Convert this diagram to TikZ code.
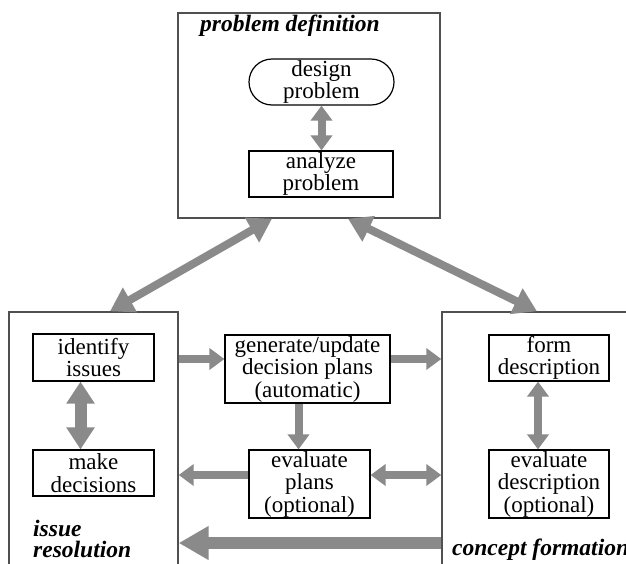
\documentclass[tikz,border=0pt]{standalone}
\usepackage{fontspec}
\setmainfont{Liberation Serif}
\usetikzlibrary{arrows.meta,shapes.misc,positioning}
\definecolor{framegray}{RGB}{80,80,80}
\definecolor{arrowgray}{RGB}{138,138,138}
\newcommand{\bodyfont}{\fontsize{23}{22.5}\selectfont}
\newcommand{\titlefont}{\fontsize{23.5}{21}\selectfont\bfseries\itshape}
\begin{document}
\begin{tikzpicture}[x=1pt,y=-1pt,
  frame/.style={draw=framegray,line width=1.4pt,inner sep=0pt},
  box/.style={draw=black,line width=1.2pt,inner sep=0pt,align=center,font=\bodyfont},
  ttl/.style={inner sep=0pt,anchor=base west,align=left,font=\titlefont},
  arr/.style={draw=arrowgray,line width=8pt,-{Triangle[width=21pt,length=15pt]}},
  darr/.style={arr,{Triangle[width=21pt,length=15pt]}-{Triangle[width=21pt,length=15pt]}},
  fatarr/.style={draw=arrowgray,line width=12pt,{Triangle[width=27pt,length=22pt]}-{Triangle[width=27pt,length=22pt]}},
  bigarr/.style={draw=arrowgray,line width=8pt,{Triangle[width=27pt,length=23pt]}-{Triangle[width=27pt,length=23pt]}},
  backarr/.style={draw=arrowgray,line width=12pt,-{Triangle[width=32pt,length=30pt]}}]
\useasboundingbox (0,0) rectangle (626,563);
\fill[white] (0,0) rectangle (626,563);
% the three areas
\node[frame,minimum width=262pt,minimum height=205pt] (pdef) at (309,115.5) {};
\node[frame,minimum width=169pt,minimum height=300pt] (ires) at (93.5,462) {};
\node[frame,minimum width=240pt,minimum height=300pt] (cform) at (562,462) {};
\node[ttl] (pdeft) at (200,31) {problem definition};
\node[ttl] (irest) at (33,557) {issue\\resolution};
\node[ttl] (cformt) at (452,555) {concept formation};
% steps
\node[box,rounded rectangle,minimum width=145pt,minimum height=46pt] (dprob) at (321.5,82) {design\\problem};
\node[box,minimum width=144pt,minimum height=46pt] (aprob) at (321,174) {analyze\\problem};
\node[box,minimum width=121pt,minimum height=47pt] (iden) at (93.5,357.5) {identify\\issues};
\node[box,minimum width=121pt,minimum height=46pt] (mdec) at (93.5,473) {make\\decisions};
\node[box,minimum width=165pt,minimum height=68pt] (gplan) at (307.5,369) {generate/update\\decision plans\\(automatic)};
\node[box,minimum width=121pt,minimum height=68pt] (eplan) at (309.5,484) {evaluate\\plans\\(optional)};
\node[box,minimum width=120pt,minimum height=46pt] (fdesc) at (549,358) {form\\description};
\node[box,minimum width=120pt,minimum height=68pt] (edesc) at (549,484) {evaluate\\description\\(optional)};
% connectors
\draw[bigarr] ([xshift=16.5pt]ires.north) -- ([xshift=-37pt]pdef.south);
\draw[bigarr] ([xshift=39pt]pdef.south) -- ([xshift=-25pt]cform.north);
\draw[darr] (dprob.south) -- (dprob.south |- aprob.north);
\coordinate (idx) at ([xshift=-13pt]iden.south);
\draw[fatarr] (idx) -- (idx |- mdec.north);
\coordinate (fdx) at ([xshift=-11pt]fdesc.south);
\draw[darr] (fdx) -- (fdx |- edesc.north);
\coordinate (gin) at ([yshift=10pt]gplan.west);
\draw[arr] (gin -| ires.east) -- (gin);
\coordinate (gout) at ([yshift=10pt]gplan.east);
\draw[arr] (gout) -- (gout -| cform.west);
\coordinate (gdown) at ([xshift=-9pt]gplan.south);
\draw[arr] (gdown) -- (gdown |- eplan.north);
\coordinate (eleft) at ([yshift=9pt]eplan.west);
\draw[arr] (eleft) -- (eleft -| ires.east);
\coordinate (eright) at ([yshift=9pt]eplan.east);
\draw[darr] (eright) -- (eright -| cform.west);
\coordinate (back) at ([yshift=-81pt]cform.west);
\draw[backarr] (back) -- (back -| ires.east);
\end{tikzpicture}
\end{document}
